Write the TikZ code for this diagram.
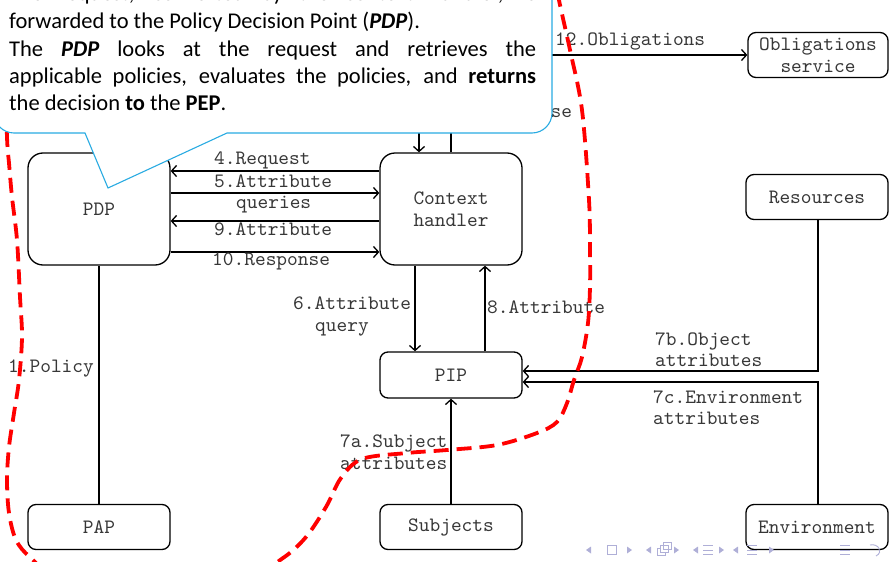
\documentclass[tikz,border=0pt]{standalone}
\usepackage{fontspec}
\setmonofont{lmmono10-regular.otf}
\newfontfamily\calloutfont{Carlito}
\usetikzlibrary{arrows.meta}

\definecolor{calloutblue}{RGB}{41,171,226}
\definecolor{navgray}{RGB}{175,175,215}
\definecolor{inkgray}{RGB}{55,55,55}

\tikzset{
  every node/.style={font=\fontsize{20.4}{22}\selectfont\ttfamily, text=inkgray},
  bigbox/.style={draw, line width=1.3pt, rounded corners=15pt, fill=white,
    minimum width=142pt, minimum height=112pt, inner sep=0pt, align=center},
  smallbox/.style={draw, line width=1.3pt, rounded corners=8pt, fill=white,
    minimum width=142pt, minimum height=45pt, inner sep=0pt, align=center},
  conn/.style={line width=1.3pt},
  arr/.style={conn, -{Straight Barb[length=5pt,width=11pt]}},
  lbl/.style={anchor=base west, inner sep=0pt},
  boundary/.style={red, line width=3.8pt, dash pattern=on 15pt off 8pt},
  callout/.style={draw=calloutblue, line width=1.1pt, fill=white},
  ctext/.style={anchor=base west, inner sep=0pt, text=black,
    font=\calloutfont\fontsize{22.5}{27}\selectfont},
  navline/.style={draw=navgray, line width=0.9pt},
}

\begin{document}
\begin{tikzpicture}[x=1pt, y=-1pt]
\useasboundingbox (0,0) rectangle (889,562);
\clip (0,0) rectangle (889,562);

% ---------- components ----------
\node[bigbox] (pdp) at (99,209) {PDP};
\node[bigbox] (ch)  at (451,209) {Context\\handler};
\node[smallbox, minimum width=140pt] (obl) at (818,55) {Obligations\\service};
\node[smallbox] (res)  at (817,197) {Resources};
\node[smallbox, minimum height=46pt] (pip) at (451,375) {PIP};
\node[smallbox] (pap)  at (99,527) {PAP};
\node[smallbox] (subj) at (451,527) {Subjects};
\node[smallbox] (env)  at (817,527) {Environment};

% ends of the flows that come from the enforcement point
\coordinate (pepdown) at (419,100);
\coordinate (pepup)   at (451,100);
\coordinate (pepobl)  at (500,55);

% ---------- flows ----------
\draw[arr] (pepdown) -- (pepdown |- ch.north);
\draw[conn] (ch.north) -- (pepup);
\draw[arr] (pepobl) -- (obl.west);

\draw[arr] ([yshift=38pt]ch.west) -- ([yshift=38pt]pdp.east);
\draw[arr] ([yshift=16pt]pdp.east) -- ([yshift=16pt]ch.west);
\draw[arr] ([yshift=-12pt]ch.west) -- ([yshift=-12pt]pdp.east);
\draw[arr] ([yshift=-43pt]pdp.east) -- ([yshift=-43pt]ch.west);

\draw[arr] ([xshift=-36pt]ch.south) -- ([xshift=-36pt]pip.north);
\draw[arr] ([xshift=34pt]pip.north) -- ([xshift=34pt]ch.south);
\draw[arr] (subj.north) -- (pip.south);
\draw[arr] ([xshift=1pt]res.south) |- ([yshift=4pt]pip.east);
\draw[arr] ([xshift=1pt]env.north) |- ([yshift=-7pt]pip.east);
\draw[conn] (pap.north) -- (pdp.south);

% ---------- flow labels ----------
\node[lbl] (l11)  at (454,117) {11.Response};
\node[lbl] (l12)  at (555,45)  {12.Obligations};
\node[lbl] (l4)   at (214,164) {4.Request};
\node[lbl] (l5a)  at (214,187) {5.Attribute};
\node[lbl] (l5b)  at (236,208) {queries};
\node[lbl] (l9)   at (214,235) {9.Attribute};
\node[lbl] (l10)  at (212,265) {10.Response};
\node[lbl] (l6a)  at (293,309) {6.Attribute};
\node[lbl] (l6b)  at (315,331) {query};
\node[lbl] (l8)   at (487,313) {8.Attribute};
\node[lbl] (l7aa) at (340,447) {7a.Subject};
\node[lbl] (l7ab) at (340,469) {attributes};
\node[lbl] (l7ba) at (655,345) {7b.Object};
\node[lbl] (l7bb) at (655,366) {attributes};
\node[lbl] (l7ca) at (653,403) {7c.Environment};
\node[lbl] (l7cb) at (653,424) {attributes};
\node[lbl] (l1)   at (8,372)   {1.Policy};

% ---------- boundary ----------
\draw[boundary] plot[smooth, tension=0.55] coordinates {
  (4,40) (7,137) (9,163) (12,197) (17,240) (20,297) (22,337) (19,380)
  (14,413) (9,447) (7,480) (9,513) (16,540) (30,557) (55,572) (150,582)
  (250,574) (283,558) (306,537) (326,507) (341,478) (362,459) (407,453)
  (447,450) (497,445) (537,433) (557,422) (567,403) (574,380) (582,357)
  (588,323) (590,287) (590,250) (589,200) (582,110) (570,50) (560,5) (555,-20)};

% ---------- callout ----------
\draw[callout] (-6,-40) -- (-6,113) .. controls (-6,124) and (3,133) .. (14,133)
  -- (85,133) -- (108,188) -- (227,133) -- (532,133)
  .. controls (543,133) and (552,124) .. (552,113) -- (552,-40) -- cycle;

\node[ctext] (t1) at (9,1)   {\makebox[527pt][s]{The request, converted by the context handler, is}};
\node[ctext] (t2) at (9,28)  {forwarded to the Policy Decision Point (\textbf{\textit{PDP}}).};
\node[ctext] (t3) at (9,56)  {\makebox[527pt][s]{The \textbf{\textit{PDP}} looks at the request and retrieves the}};
\node[ctext] (t4) at (9,83)  {\makebox[527pt][s]{applicable policies, evaluates the policies, and \textbf{returns}}};
\node[ctext] (t5) at (9,110) {the decision \textbf{to} the \textbf{PEP}.};

% ---------- navigation symbols ----------
\foreach \x in {586,646,693,733} {
  \fill[navgray] (\x,550) -- (\x+5,546.5) -- (\x+5,553.5) -- cycle;
}
\foreach \x in {632,679,724,774} {
  \fill[navgray] (\x,550) -- (\x-5,546.5) -- (\x-5,553.5) -- cycle;
}
\draw[navline] (607.5,545.5) rectangle (616.5,554.5);
\draw[navline] (657,548) rectangle (665,555);
\draw[navline, fill=white] (660,545) rectangle (668,552);
\draw[navline] (663,542) rectangle (671,549);
\foreach \x in {708,752,845} {
  \draw[navline] (\x-5,545.5) -- (\x+5,545.5);
  \draw[navline] (\x-5,550) -- (\x+5,550);
  \draw[navline] (\x-5,554.5) -- (\x+5,554.5);
}
\draw[navline] (870,545) .. controls (878,543) and (884,552) .. (876,556);
\end{tikzpicture}
\end{document}
